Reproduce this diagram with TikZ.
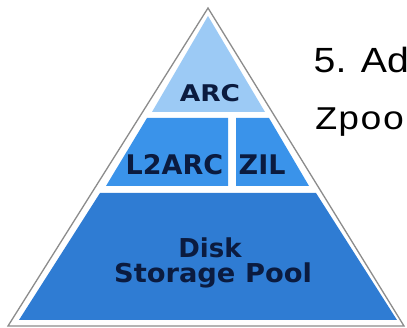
\documentclass[tikz,border=0pt]{standalone}
\usepackage{fontspec}
\newfontfamily\labfont{DejaVu Sans}
\newfontfamily\headfont{Liberation Sans}
\newfontfamily\codefont{Liberation Mono}
\definecolor{arcblue}{HTML}{9CCAF5}
\definecolor{midblue}{HTML}{3A93EA}
\definecolor{lowblue}{HTML}{2F7CD3}
\definecolor{inkblue}{HTML}{0B1B3F}
\definecolor{edgegray}{HTML}{8C8C8C}
\tikzset{
  band/.style={draw=none},
  lab/.style={inner sep=0pt, text=inkblue, anchor=base},
}
\begin{document}
\begin{tikzpicture}[x=1pt,y=-1pt]
\useasboundingbox (0,0) rectangle (407,328);
\clip (0,0) rectangle (407,328);
\fill[white] (0,0) rectangle (407,328);
% outer triangle
\draw[edgegray, line width=1.3pt, line join=miter] (208,8) -- (8,326) -- (404,326) -- cycle;
% bands
\fill[band, arcblue] (208,16) -- (152,112) -- (265,112) -- cycle;
\fill[band, midblue] (147,118) -- (228,118) -- (228,186) -- (106,186) -- cycle;
\fill[band, midblue] (236,118) -- (269,118) -- (309,186) -- (236,186) -- cycle;
\fill[band, lowblue] (100,193) -- (316,193) -- (397,320) -- (19,320) -- cycle;
% labels
\node[lab, xscale=1.15, font=\labfont\bfseries\fontsize{23}{25}\selectfont] (arc) at (210,102) {ARC};
\node[lab, anchor=base west, font=\labfont\bfseries\fontsize{27}{29}\selectfont] (l2arc) at (125.5,175) {L2ARC};
\node[lab, anchor=base west, font=\labfont\bfseries\fontsize{27}{29}\selectfont] (zil) at (238.5,175) {ZIL};
\node[lab, font=\labfont\bfseries\fontsize{26}{28}\selectfont] (disk) at (210,258) {Disk};
\node[lab, xscale=1.05, font=\labfont\bfseries\fontsize{26}{28}\selectfont] (pool) at (213,283) {Storage Pool};
% right text (cut off by the picture's right edge, as in the reference)
\node[inner sep=0pt, anchor=base west, xscale=1.12, font=\headfont\fontsize{35}{38}\selectfont] (title) at (313.5,73) {5. Add};
\node[inner sep=0pt, anchor=base west, xscale=1.13, font=\codefont\fontsize{33}{36}\selectfont] (cmd) at (315,130) {Zpool};
\end{tikzpicture}
\end{document}
